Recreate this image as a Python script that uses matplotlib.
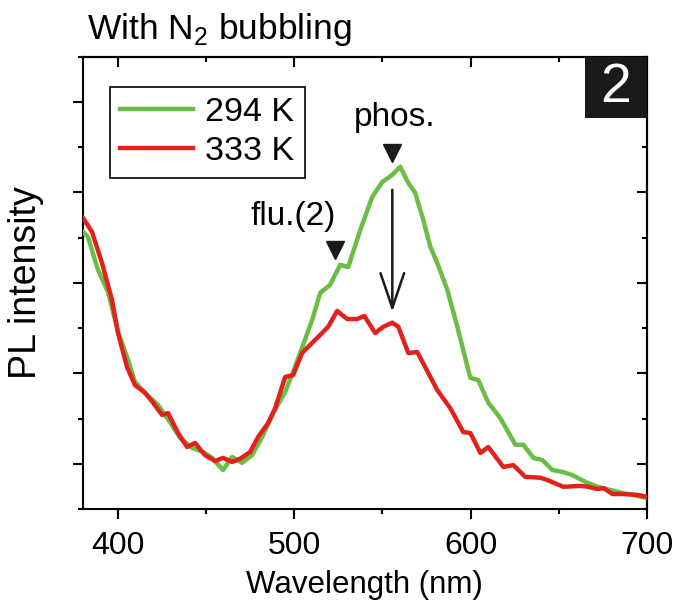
import matplotlib
matplotlib.use('Agg')
import matplotlib.pyplot as plt
import matplotlib.patches as mpatches
from matplotlib.ticker import MultipleLocator, NullFormatter

plt.rcParams['font.family'] = ['Liberation Sans', 'DejaVu Sans']
plt.rcParams['mathtext.fontset'] = 'custom'
plt.rcParams['mathtext.rm'] = 'Liberation Sans'

# PL spectra (arbitrary units)
wl_294 = [380, 382.8, 388.5, 394.2, 399.9, 405.6, 409.5, 415.2, 422.6, 429.4,
          435.1, 441.9, 448.2, 453.3, 459.5, 464.7, 470.3, 476.0, 481.7, 488.0,
          494.8, 499.3, 505.0, 510.1, 514.7, 520.3, 526.0, 530.6, 537.4, 544.2,
          549.9, 555.6, 560.1, 564.7, 568.6, 573.2, 577.2, 581.1, 586.8, 592.5,
          599.9, 604.4, 610.1, 616.9, 625.5, 630.0, 635.7, 640.8, 646.5, 652.2,
          657.8, 665.2, 672.0, 679.4, 686.3, 692.5, 700]
pl_294 = [6.13, 6.02, 5.29, 4.80, 3.92, 3.30, 2.81, 2.57, 2.30, 1.92,
          1.57, 1.35, 1.26, 1.13, 0.86, 1.15, 1.02, 1.19, 1.59, 2.12,
          2.59, 3.03, 3.63, 4.18, 4.78, 4.96, 5.40, 5.35, 6.17, 6.90,
          7.23, 7.39, 7.57, 7.21, 6.99, 6.39, 5.80, 5.44, 4.85, 4.03,
          2.90, 2.85, 2.35, 2.01, 1.42, 1.42, 1.13, 1.08, 0.86, 0.82,
          0.75, 0.60, 0.49, 0.42, 0.35, 0.31, 0.24]

wl_333 = [380, 385.1, 390.8, 396.5, 399.9, 405.0, 409.5, 415.2, 419.8, 424.9,
          428.3, 434.0, 439.1, 443.6, 449.3, 455.0, 459.5, 464.7, 469.2, 474.9,
          479.4, 485.1, 489.1, 494.8, 499.3, 504.4, 509.0, 514.7, 519.2, 524.3,
          530.0, 535.7, 539.7, 545.9, 550.5, 555.6, 559.0, 564.7, 569.8, 576.0,
          581.1, 588.5, 595.9, 599.9, 605.6, 610.1, 618.6, 624.3, 631.1, 639.7,
          643.6, 652.7, 662.4, 666.9, 672.0, 675.5, 680.6, 686.8, 694.8, 700]
pl_333 = [6.44, 6.13, 5.44, 4.62, 3.89, 3.14, 2.74, 2.57, 2.35, 2.08,
          2.12, 1.68, 1.37, 1.46, 1.19, 1.06, 1.13, 1.04, 1.11, 1.26,
          1.59, 1.90, 2.23, 2.92, 2.96, 3.45, 3.63, 3.85, 4.03, 4.38,
          4.20, 4.20, 4.27, 3.89, 4.03, 4.12, 4.03, 3.45, 3.47, 3.01,
          2.63, 2.23, 1.70, 1.68, 1.24, 1.37, 0.93, 0.97, 0.71, 0.69,
          0.64, 0.49, 0.51, 0.49, 0.44, 0.46, 0.33, 0.33, 0.31, 0.27]

labels = ['294 K', '333 K']
colors = ['#6abd45', '#e3211c']

fig = plt.figure(figsize=(6.8, 6.11), dpi=100)
ax = fig.add_axes([0.122, 0.167, 0.829, 0.740])

ax.plot(wl_294, pl_294, color=colors[0], lw=3.2, label=labels[0], zorder=3)
ax.plot(wl_333, pl_333, color=colors[1], lw=3.2, label=labels[1], zorder=4)

ax.set_xlim(380, 700)
ax.set_ylim(0, 10)
ax.xaxis.set_major_locator(MultipleLocator(100))
ax.xaxis.set_minor_locator(MultipleLocator(50))
ax.yaxis.set_major_locator(MultipleLocator(2, offset=1))
ax.yaxis.set_minor_locator(MultipleLocator(1))
ax.yaxis.set_major_formatter(NullFormatter())
ax.tick_params(which='both', direction='out', width=1.5, labelsize=23, pad=9)
ax.tick_params(which='major', length=7)
ax.tick_params(which='minor', length=3.5)
for s in ax.spines.values():
    s.set_linewidth(1.5)

# mirrored ticks pointing inward on top and right
secx = ax.secondary_xaxis('top')
secx.xaxis.set_major_locator(MultipleLocator(100))
secx.xaxis.set_minor_locator(MultipleLocator(50))
secx.tick_params(which='both', direction='in', width=1.5, labeltop=False)
secx.tick_params(which='major', length=7)
secx.tick_params(which='minor', length=3.5)
secx.spines['top'].set_linewidth(1.5)
secy = ax.secondary_yaxis('right')
secy.yaxis.set_major_locator(MultipleLocator(2, offset=1))
secy.yaxis.set_minor_locator(MultipleLocator(1))
secy.tick_params(which='both', direction='in', width=1.5, labelright=False)
secy.tick_params(which='major', length=7)
secy.tick_params(which='minor', length=3.5)
secy.spines['right'].set_linewidth(1.5)

ax.set_xlabel('Wavelength (nm)', fontsize=22.5, labelpad=6)
ax.set_ylabel('PL intensity', fontsize=27, labelpad=12)
fig.text(0.128, 0.952, 'With N$_2$ bubbling', fontsize=25.5, ha='left', va='center')

leg = ax.legend(loc='upper left', bbox_to_anchor=(0.048, 0.934), borderaxespad=0,
                fontsize=24.5, handlelength=2.15, handletextpad=0.35, borderpad=0.3,
                labelspacing=0.25, fancybox=False, framealpha=1)
leg.get_frame().set_edgecolor('black')
leg.get_frame().set_linewidth(1.2)

# panel number
ax.add_patch(mpatches.Rectangle((0.89, 0.865), 0.11, 0.135, transform=ax.transAxes,
                                facecolor='#1a1a1a', edgecolor='none', zorder=5))
ax.text(0.945, 0.932, '2', transform=ax.transAxes, color='white', fontsize=40,
        ha='center', va='center', zorder=6)

# peak markers and labels
ax.plot([555.6], [7.88], marker='v', color='#1a1a1a', markersize=13, zorder=5)
ax.plot([523.2], [5.73], marker='v', color='#1a1a1a', markersize=13, zorder=5)
ax.text(557, 8.65, 'phos.', fontsize=24, ha='center', va='center')
ax.text(499.3, 6.46, 'flu.(2)', fontsize=24, ha='center', va='center')
ax.annotate('', xy=(555.6, 4.3), xytext=(555.6, 7.12),
            arrowprops=dict(arrowstyle='->,head_length=2.5,head_width=0.85',
                            color='#1a1a1a', lw=1.8))

fig.savefig('out.png', dpi=100)
